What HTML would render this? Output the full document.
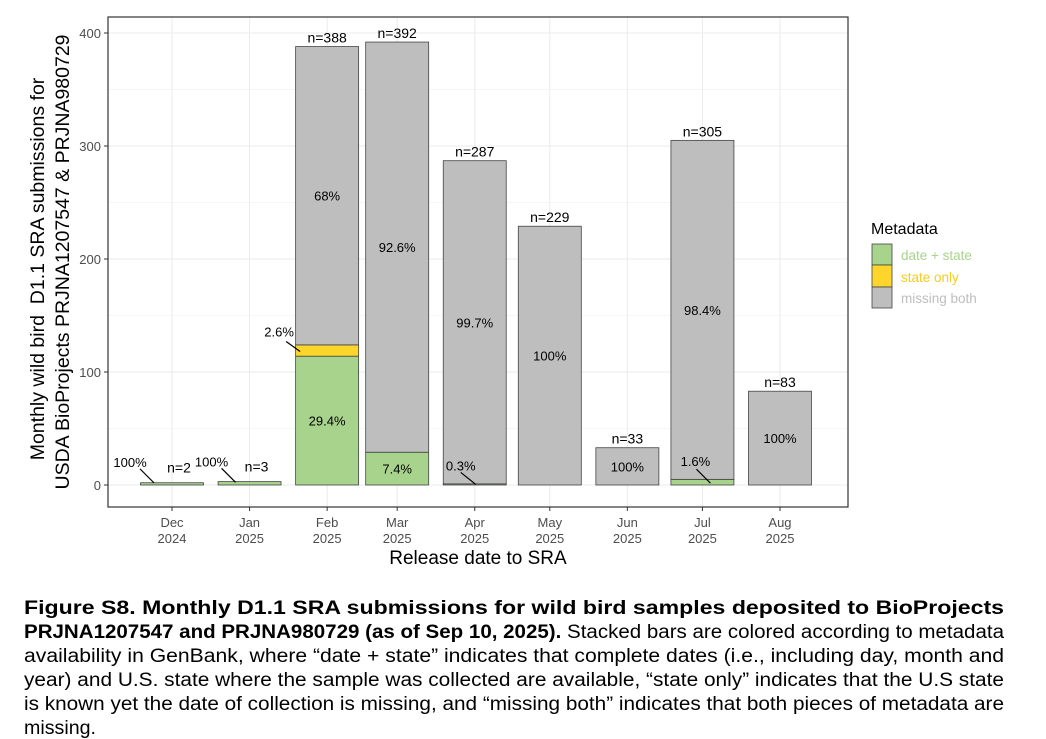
<!DOCTYPE html>
<html><head><meta charset="utf-8"><style>
body{margin:0;background:#fff;}
svg{display:block;font-family:"Liberation Sans",Arial,sans-serif;}
</style></head><body>
<svg id="chart" width="1046" height="739" xmlns="http://www.w3.org/2000/svg">
<rect width="1046" height="739" fill="#fff"/>
<g id="grid"></g>
<g id="bars"></g>
<g id="labels"></g>
<rect x="108" y="17" width="740" height="490" fill="none" stroke="#333" stroke-width="1.2"/>
<g id="axes"></g>
<text x="478" y="564" font-size="19" text-anchor="middle" fill="#000">Release date to SRA</text>
<text transform="translate(44,269) rotate(-90)" font-size="19.5" text-anchor="middle" fill="#000">Monthly wild bird&#160; D1.1 SRA submissions for</text>
<text transform="translate(69,262) rotate(-90)" font-size="19.5" text-anchor="middle" fill="#000" textLength="455" lengthAdjust="spacingAndGlyphs">USDA BioProjects PRJNA1207547 &amp; PRJNA980729</text>
<g>
<text x="871" y="234" font-size="16" fill="#000">Metadata</text>
<rect x="872" y="244" width="20" height="21" fill="#a8d38d" stroke="#444" stroke-width="0.8"/>
<rect x="872" y="265" width="20" height="22" fill="#fdd52b" stroke="#444" stroke-width="0.8"/>
<rect x="872" y="287" width="20" height="21" fill="#bebebe" stroke="#444" stroke-width="0.8"/>
<text x="901" y="260" font-size="13.5" fill="#a8d38d">date + state</text>
<text x="901" y="282" font-size="13.5" fill="#f5cc20">state only</text>
<text x="901" y="303" font-size="13.5" fill="#bebebe">missing both</text>
</g>
<g font-size="19" fill="#000">
<text x="24" y="614" textLength="980" lengthAdjust="spacingAndGlyphs" font-weight="bold">Figure S8. Monthly D1.1 SRA submissions for wild bird samples deposited to BioProjects</text>
<text x="24" y="638" textLength="980" lengthAdjust="spacingAndGlyphs"><tspan font-weight="bold">PRJNA1207547 and PRJNA980729 (as of Sep 10, 2025).</tspan> Stacked bars are colored according to metadata</text>
<text x="24" y="662" textLength="980" lengthAdjust="spacingAndGlyphs">availability in GenBank, where “date + state” indicates that complete dates (i.e., including day, month and</text>
<text x="24" y="686" textLength="980" lengthAdjust="spacingAndGlyphs">year) and U.S. state where the sample was collected are available, “state only” indicates that the U.S state</text>
<text x="24" y="710" textLength="980" lengthAdjust="spacingAndGlyphs">is known yet the date of collection is missing, and “missing both” indicates that both pieces of metadata are</text>
<text x="24" y="734" textLength="72" lengthAdjust="spacingAndGlyphs">missing.</text>
</g>
</svg>
<script>
const months = ["Dec\n2024","Jan\n2025","Feb\n2025","Mar\n2025","Apr\n2025","May\n2025","Jun\n2025","Jul\n2025","Aug\n2025"];
const dayOffsets = [0,31,62,90,121,151,182,212,243];
const dateState = [2,3,114,29,1,0,0,5,0];
const stateOnly = [0,0,10,0,0,0,0,0,0];
const missingBoth = [0,0,264,363,286,229,33,300,83];
const pctDateState = ["100%","100%","29.4%","7.4%","0.3%","","","1.6%",""];
const pctStateOnly = ["","","2.6%","","","","","",""];
const pctMissing = ["","","68%","92.6%","99.7%","100%","100%","98.4%","100%"];
const yTicks = [0,100,200,300,400];

// repelled-label layout offsets (pixels, relative to segment centre), keyed by bar index
const repel = {
  0:{tx:-42,ty:-17,sx:-32,sy:-15,ex:-18,ey:-1},
  1:{tx:-38,ty:-17,sx:-28,sy:-15,ex:-14,ey:-1},
  2:{tx:-48,ty:-14,sx:-41,sy:-9,ex:-27,ey:1},
  4:{tx:-14,ty:-14,sx:-14,sy:-12,ex:1,ey:0},
  7:{tx:-7,ty:-16,sx:-6,sy:-13,ex:8,ey:1}
};

const NS="http://www.w3.org/2000/svg";
function xS(d){return 172+(d)*2.502;}
function yS(v){return 485-v*1.13;}
const barW=63;
function mk(parent,tag,attrs){const e=document.createElementNS(NS,tag);for(const k in attrs)e.setAttribute(k,attrs[k]);document.getElementById(parent).appendChild(e);return e;}

for(let i=0;i<yTicks.length;i++){
  const g=mk('grid','line',{x1:108,x2:848,y1:yS(yTicks[i]),y2:yS(yTicks[i]),stroke:'#ebebeb','stroke-width':1});
  
  
  if(i<yTicks.length-1){
    const m=mk('grid','line',{x1:108,x2:848,y1:yS((yTicks[i]+yTicks[i+1])/2),y2:yS((yTicks[i]+yTicks[i+1])/2),stroke:'#f3f3f3','stroke-width':0.7});
    
    
  }
  const t=mk('axes','text',{x:101,y:yS(yTicks[i])+5,'text-anchor':'end','font-size':13,fill:'#4d4d4d'});
  t.textContent=yTicks[i];
  
  
  mk('axes','line',{x1:104,x2:108,y1:yS(yTicks[i]),y2:yS(yTicks[i]),stroke:'#333'});
}
for(let i=0;i<months.length;i++){
  const x=xS(dayOffsets[i]);
  const g=mk('grid','line',{x1:x,x2:x,y1:17,y2:507,stroke:'#ebebeb','stroke-width':1});
  
  
  mk('axes','line',{x1:x,x2:x,y1:507,y2:511,stroke:'#333'});
  const parts=months[i].split("\n");
  for(let j=0;j<2;j++){
    const t=mk('axes','text',{x:x,y:527+j*16,'text-anchor':'middle','font-size':13,fill:'#4d4d4d'});
    t.textContent=parts[j];
    
    
  }
}
for(let i=0;i<months.length;i++){
  const x=xS(dayOffsets[i])-barW/2;
  const segs=[[dateState[i],'#a8d38d','bar-date-state',pctDateState[i]],[stateOnly[i],'#fdd52b','bar-state-only',pctStateOnly[i]],[missingBoth[i],'#bebebe','bar-missing-both',pctMissing[i]]];
  let base=0;
  const total=dateState[i]+stateOnly[i]+missingBoth[i];
  for(let s=0;s<3;s++){
    const v=segs[s][0];
    if(v>0){
      const r=mk('bars','rect',{x:x,y:yS(base+v),width:barW,height:yS(base)-yS(base+v),fill:segs[s][1],stroke:'#444','stroke-width':0.8});
      
      
      const lbl=segs[s][3];
      if(lbl){
        const h=yS(base)-yS(base+v);
        const cx=xS(dayOffsets[i]);const cy=(yS(base)+yS(base+v))/2;
        let t;
        if(h>20){
          t=mk('labels','text',{x:cx,y:cy+5,'text-anchor':'middle','font-size':13,fill:'#000'});
        } else {
          const o=repel[i]||{tx:-30,ty:-16,sx:-22,sy:-13,ex:-10,ey:0};
          mk('labels','line',{x1:cx+o.sx,y1:cy+o.sy,x2:cx+o.ex,y2:cy+o.ey,stroke:'#000','stroke-width':1.2});
          t=mk('labels','text',{x:cx+o.tx,y:cy+o.ty,'text-anchor':'middle','font-size':13,fill:'#000'});
        }
        t.textContent=lbl;
        
        
      }
    }
    base+=v;
  }
  const nx = total<10 ? xS(dayOffsets[i])+7 : xS(dayOffsets[i]);
  const nt=mk('labels','text',{x:nx,y:yS(total)-(total<10?10:4),'text-anchor':'middle','font-size':14,fill:'#000'});
  nt.textContent='n='+total;
  
  
}
</script>
</body></html>
